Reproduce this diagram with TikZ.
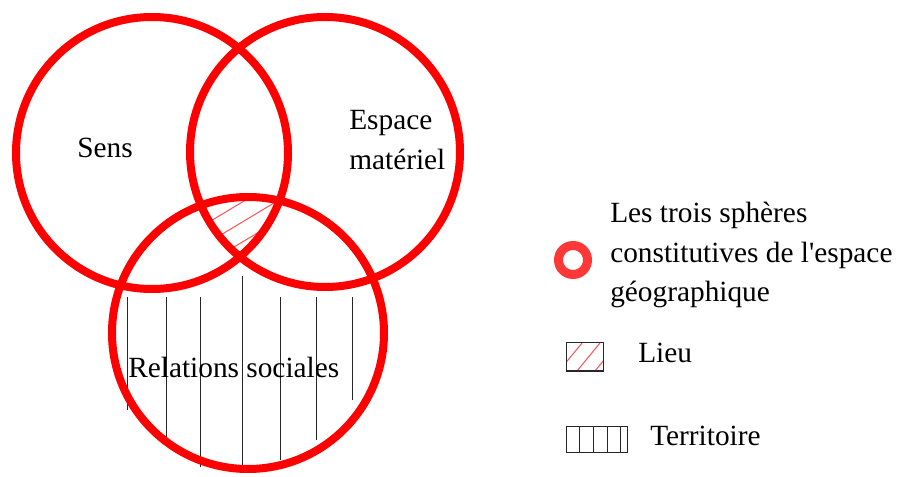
\documentclass[tikz,border=0pt]{standalone}
\usepackage{fontspec}
\setmainfont{Liberation Serif}
\definecolor{hatchcol}{RGB}{255,80,80}
\definecolor{ringcol}{RGB}{255,55,55}
\begin{document}
\begin{tikzpicture}[x=0.75pt,y=-0.75pt,
  sphere/.style={draw=red,line width=6pt},
  lbl/.style={font=\fontsize{22}{29}\selectfont,inner sep=0pt},
  hatchred/.style={draw=hatchcol,line width=0.75pt},
  terr/.style={draw=black!85,line width=0.75pt},
  legbox/.style={draw=black!85,line width=0.75pt}]
\useasboundingbox (0,0) rectangle (907,477);
% territory hatching
\foreach \x/\a/\b in {127/297/410,166/297/443,200/297/467,242/276/467,280/297/460,316/297/440,352/297/400}
  \draw[terr] (\x,\a) -- (\x,\b);
% lieu hatching
\begin{scope}
  \clip (152,153) circle[radius=136];
  \clip (325,152) circle[radius=135];
  \clip (248,333) circle[radius=136];
  \foreach \c in {202,222,242,262,282}
    \draw[hatchred] (150,\c+35.4) -- (320,\c-66.6);
\end{scope}
% spheres
\draw[sphere] (152,153) circle[radius=136];
\draw[sphere] (325,152) circle[radius=135];
\draw[sphere] (248,333) circle[radius=136];
% labels
\node[lbl,anchor=base] (sens) at (105,158) {Sens};
\node[lbl,anchor=base west] (esp1) at (349,130) {Espace};
\node[lbl,anchor=base west] (esp2) at (349,170) {matériel};
\node[lbl,anchor=base west] (rel) at (128,378) {Relations sociales};
% legend
\draw[draw=ringcol,line width=6.75pt] (573,260) circle[radius=14.5];
\node[lbl,anchor=base west] (leg1) at (610,223) {Les trois sphères};
\node[lbl,anchor=base west] (leg2) at (610,263) {constitutives de l\textquotesingle espace};
\node[lbl,anchor=base west] (leg3) at (610,302) {géographique};
\begin{scope}
  \clip (566,343) rectangle (603,371);
  \foreach \b in {559,577,595}
    \draw[hatchred] (\b,371) -- (\b+23,343);
\end{scope}
\draw[legbox] (566,343) rectangle (603,371);
\node[lbl,anchor=base west] (lieu) at (638,363) {Lieu};
\draw[legbox] (566,426) rectangle (627,452);
\foreach \x in {579,593,607,620}
  \draw[legbox] (\x,426) -- (\x,452);
\node[lbl,anchor=base west] (terrtxt) at (650,445) {Territoire};
\end{tikzpicture}
\end{document}
